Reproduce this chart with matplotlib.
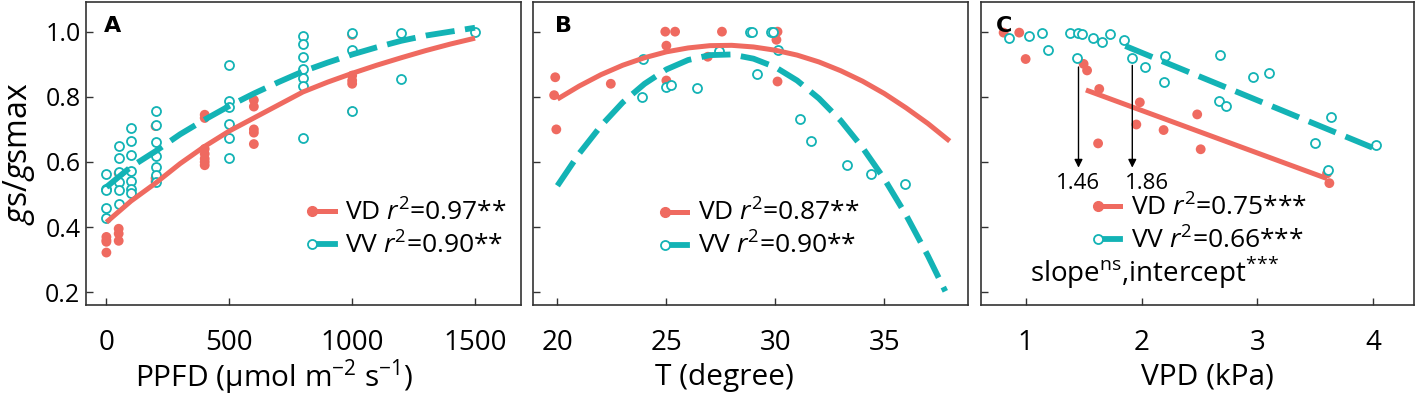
import numpy as np
import matplotlib
matplotlib.use("Agg")
import matplotlib.pyplot as plt
from matplotlib.lines import Line2D
from matplotlib.legend_handler import HandlerLine2DCompound

plt.rcParams["font.family"] = ["Open Sans", "DejaVu Sans"]
plt.rcParams["mathtext.fontset"] = "custom"
plt.rcParams["mathtext.rm"] = "Open Sans"
plt.rcParams["mathtext.it"] = "Open Sans:italic"
plt.rcParams["mathtext.bf"] = "Open Sans:bold"

RED = "#EF6A60"
CYAN = "#13B3B5"

# ---- panel A: PPFD ----
ppfd_vd = [0, 0, 0, 0, 50, 50, 50, 50, 200, 200, 200,
           400, 400, 400, 400, 400, 400, 400, 600, 600, 600, 600, 600,
           1000, 1000, 1000, 1000, 1000]
gs_vd_a = [0.37, 0.355, 0.322, 0.36, 0.565, 0.395, 0.38, 0.358, 0.71, 0.55, 0.54,
           0.745, 0.735, 0.64, 0.625, 0.61, 0.60, 0.59, 0.79, 0.77, 0.70, 0.69, 0.655,
           0.99, 0.865, 0.85, 0.84, 0.755]
ppfd_vv = [0, 0, 0, 0, 0, 50, 50, 50, 50, 50, 50,
           100, 100, 100, 100, 100, 100, 100, 200, 200, 200, 200, 200, 200, 200,
           500, 500, 500, 500, 500, 500, 800, 800, 800, 800, 800, 800, 800,
           1000, 1000, 1000, 1200, 1200, 1500]
gs_vv_a = [0.562, 0.518, 0.513, 0.46, 0.428, 0.65, 0.612, 0.57, 0.54, 0.513, 0.47,
           0.705, 0.663, 0.62, 0.572, 0.541, 0.518, 0.505,
           0.757, 0.712, 0.66, 0.617, 0.584, 0.559, 0.54,
           0.898, 0.786, 0.77, 0.717, 0.674, 0.613,
           0.987, 0.961, 0.923, 0.885, 0.859, 0.834, 0.673,
           0.997, 0.943, 0.757, 0.997, 0.854, 1.0]
fit_ppfd = [0, 100, 200, 300, 400, 500, 600, 700, 800, 900, 1000, 1100, 1200, 1300, 1400, 1500]
fit_vd_a = [0.415, 0.48, 0.535, 0.595, 0.648, 0.695, 0.735, 0.775, 0.815, 0.845,
            0.872, 0.897, 0.92, 0.942, 0.962, 0.98]
fit_vv_a = [0.523, 0.585, 0.633, 0.685, 0.73, 0.772, 0.81, 0.845, 0.878, 0.905,
            0.93, 0.952, 0.972, 0.988, 1.0, 1.012]

# ---- panel B: temperature ----
temp_vd = [19.9, 19.85, 19.95, 22.45, 24.95, 25.4, 25.0, 25.0, 26.9, 27.55, 30.1, 30.05, 30.1]
gs_vd_b = [0.86, 0.805, 0.70, 0.84, 1.0, 1.0, 0.957, 0.85, 0.923, 1.0, 1.0, 0.975, 0.847]
temp_vv = [23.95, 23.9, 25.0, 25.2, 26.4, 27.4, 28.85, 28.95, 29.8, 29.9, 30.1, 29.15,
           31.15, 31.65, 33.3, 34.4, 35.95]
gs_vv_b = [0.915, 0.80, 0.83, 0.837, 0.827, 0.94, 1.0, 1.0, 1.0, 1.0, 0.943, 0.87,
           0.732, 0.664, 0.591, 0.564, 0.533]
fit_temp_vd = [20, 21, 22, 23, 24, 25, 26, 27, 28, 29, 30, 31, 32, 33, 34, 35, 36, 37, 38]
fit_vd_b = [0.793, 0.833, 0.868, 0.897, 0.920, 0.938, 0.950, 0.957, 0.958, 0.953,
            0.943, 0.928, 0.907, 0.880, 0.848, 0.810, 0.766, 0.718, 0.664]
fit_temp_vv = [20, 21, 22, 23, 24, 25, 26, 27, 28, 29, 30, 31, 32, 33, 34, 35, 36, 37, 37.8]
fit_vv_b = [0.527, 0.626, 0.711, 0.783, 0.840, 0.884, 0.913, 0.928, 0.930, 0.917,
            0.891, 0.850, 0.795, 0.727, 0.644, 0.548, 0.437, 0.312, 0.203]

# ---- panel C: VPD ----
vpd_vd = [0.81, 0.945, 1.0, 1.5, 1.53, 1.635, 1.625, 1.985, 1.955, 2.19, 2.48, 2.51, 3.6, 3.62]
gs_vd_c = [0.997, 0.997, 0.916, 0.901, 0.881, 0.824, 0.657, 0.783, 0.715, 0.698,
           0.746, 0.639, 0.565, 0.535]
vpd_vv = [0.86, 1.03, 1.14, 1.19, 1.385, 1.45, 1.49, 1.447, 1.58, 1.655, 1.73, 1.85,
          1.92, 2.03, 2.2, 2.19, 2.68, 2.67, 2.73, 2.96, 3.10, 3.63, 3.50, 3.61, 4.02]
gs_vv_c = [0.98, 0.987, 0.997, 0.944, 0.997, 0.997, 0.994, 0.919, 0.98, 0.969, 0.992,
           0.975, 0.919, 0.892, 0.926, 0.844, 0.928, 0.786, 0.773, 0.862, 0.873,
           0.737, 0.657, 0.576, 0.653]
fit_vpd_vd = [1.52, 3.60]
fit_vd_c = [0.821, 0.549]
fit_vpd_vv = [1.86, 4.02]
fit_vv_c = [0.956, 0.640]
thresholds = [1.46, 1.86]
arrow_x = [1.456, 1.92]
arrow_top = [0.90, 0.905]

legend_a = [r"VD $r^{2}$=0.97**", r"VV $r^{2}$=0.90**"]
legend_b = [r"VD $r^{2}$=0.87**", r"VV $r^{2}$=0.90**"]
legend_c = [r"VD $r^{2}$=0.75***", r"VV $r^{2}$=0.66***"]


class MarkerLeft(HandlerLine2DCompound):
    # single marker drawn at the left end of the legend line
    def get_xdata(self, legend, xdescent, ydescent, width, height, fontsize):
        xdata = np.array([-xdescent, -xdescent + width], float)
        return xdata, np.array([-xdescent])


def draw_panel(ax, xr, yr, xv, yv, fxr, fyr, fxv, fyv):
    ax.scatter(xr, yr, s=50, color=RED, edgecolors="none", zorder=2)
    ax.scatter(xv, yv, s=42, facecolors="white", edgecolors=CYAN, linewidths=1.3, zorder=3)
    ax.plot(fxr, fyr, color=RED, lw=3.6, solid_capstyle="butt", zorder=4)
    ax.plot(fxv, fyv, color=CYAN, lw=4.2, ls=(0, (5, 1.8)), dash_capstyle="butt", zorder=5)


def add_legend(ax, labels, x, y):
    h1 = Line2D([], [], color=RED, lw=3.6, marker="o", ms=7, mfc=RED, mec=RED)
    h2 = Line2D([], [], color=CYAN, lw=4.2, marker="o", ms=6.5, mfc="white",
                mec=CYAN, mew=1.3)
    ax.legend([h1, h2], labels, loc="center left", bbox_to_anchor=(x, y),
              frameon=False, fontsize=19, handlelength=0.85, handletextpad=0.4,
              labelspacing=0.22, borderpad=0, borderaxespad=0,
              handler_map={Line2D: MarkerLeft(numpoints=1)})


fig = plt.figure(figsize=(14.17, 3.96), dpi=100)
bottom, height = 91 / 396, 394 / 396 - 91 / 396
axA = fig.add_axes([86 / 1417, bottom, 435 / 1417, height])
axB = fig.add_axes([533 / 1417, bottom, 435 / 1417, height])
axC = fig.add_axes([981 / 1417, bottom, 433 / 1417, height])

draw_panel(axA, ppfd_vd, gs_vd_a, ppfd_vv, gs_vv_a, fit_ppfd, fit_vd_a, fit_ppfd, fit_vv_a)
draw_panel(axB, temp_vd, gs_vd_b, temp_vv, gs_vv_b, fit_temp_vd, fit_vd_b, fit_temp_vv, fit_vv_b)
draw_panel(axC, vpd_vd, gs_vd_c, vpd_vv, gs_vv_c, fit_vpd_vd, fit_vd_c, fit_vpd_vv, fit_vv_c)

axA.set_xlim(-83, 1687)
axA.set_xticks([0, 500, 1000, 1500])
axA.set_xlabel(r"PPFD (µmol m$^{-2}$ s$^{-1}$)", fontsize=21.5)
axA.set_ylabel(r"$g$s/$g$smax", fontsize=23, labelpad=6)

axB.set_xlim(18.88, 38.84)
axB.set_xticks([20, 25, 30, 35])
axB.set_xlabel("T (degree)", fontsize=21.5)

axC.set_xlim(0.615, 4.35)
axC.set_xticks([1, 2, 3, 4])
axC.set_xlabel("VPD (kPa)", fontsize=21.5)

for ax, lab, lx, xl in [(axA, "A", 0.041, 0.433), (axB, "B", 0.05, 0.439),
                        (axC, "C", 0.035, 0.523)]:
    ax.set_ylim(0.161, 1.091)
    ax.set_yticks([0.2, 0.4, 0.6, 0.8, 1.0])
    ax.tick_params(direction="in", length=5, width=1, color="#333333")
    ax.tick_params(axis="x", pad=17, labelsize=20)
    ax.tick_params(axis="y", pad=4, labelsize=18)
    for sp in ax.spines.values():
        sp.set_color("#333333")
        sp.set_linewidth(1.2)
    ax.text(lx, 0.92, lab, transform=ax.transAxes, fontsize=16, fontweight="bold",
            family="DejaVu Sans", ha="left", va="center")
    ax.xaxis.set_label_coords(xl, -0.238)
    ax.xaxis.label.set_va("center")

axA.set_yticklabels(["0.2", "0.4", "0.6", "0.8", "1.0"])
axB.set_yticklabels([])
axC.set_yticklabels([])

add_legend(axA, legend_a, 0.52, 0.249)
add_legend(axB, legend_b, 0.303, 0.248)
add_legend(axC, legend_c, 0.27, 0.266)
axC.text(0.113, 0.105, r"slope$^{\mathrm{ns}}$,intercept$^{{*}{*}{*}}$", transform=axC.transAxes,
         fontsize=20, ha="left", va="center")

for xa, yt in zip(arrow_x, arrow_top):
    axC.annotate("", xy=(xa, 0.574), xytext=(xa, yt),
                 arrowprops=dict(arrowstyle="-|>", color="black", lw=1, mutation_scale=12),
                 zorder=6)
axC.text(arrow_x[0], 0.533, f"{thresholds[0]:.2f}", fontsize=16, ha="center", va="center")
axC.text(arrow_x[1] - 0.06, 0.533, f"{thresholds[1]:.2f}", fontsize=16, ha="left", va="center")

fig.savefig("out.png", dpi=100)
